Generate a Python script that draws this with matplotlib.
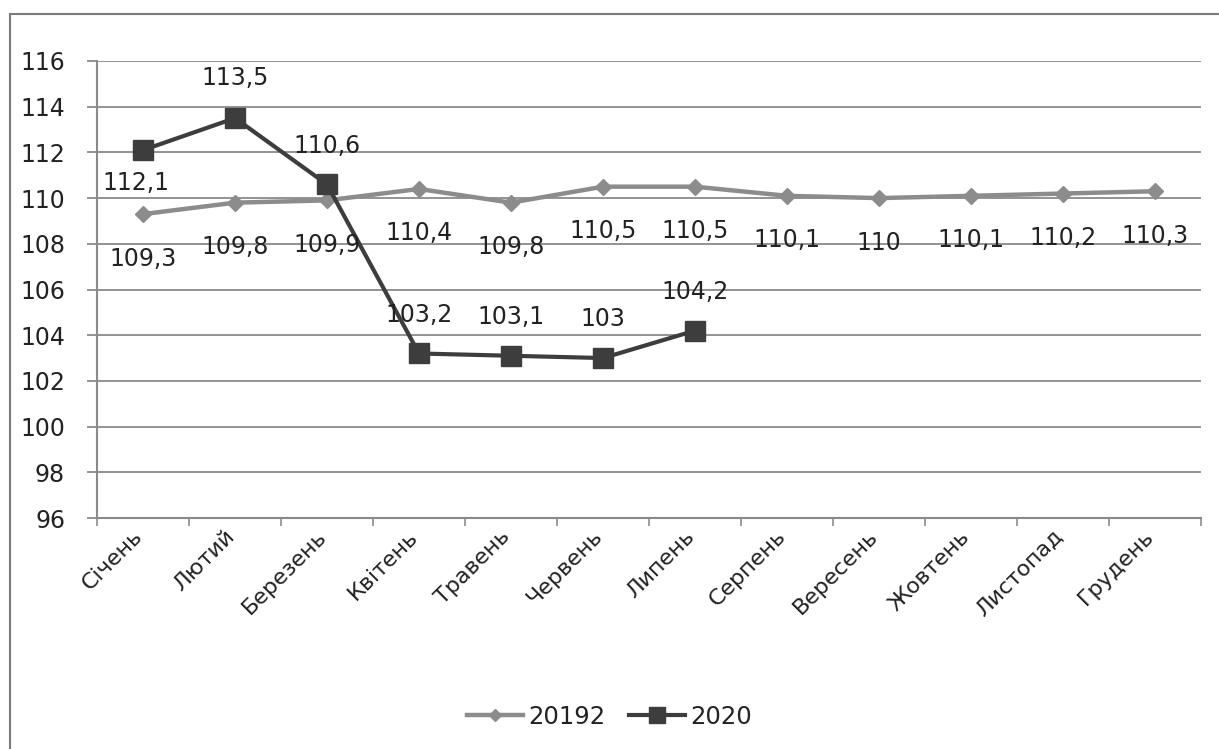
#!/usr/bin/env python3
# -*- coding: utf-8 -*-
"""Line chart: monthly index 2019 vs 2020 (Excel style)."""

import matplotlib
matplotlib.use('Agg')

import matplotlib.pyplot as plt
from matplotlib.patches import Rectangle
from matplotlib.transforms import ScaledTranslation

# Data
months = ['Січень', 'Лютий', 'Березень', 'Квітень', 'Травень', 'Червень',
          'Липень', 'Серпень', 'Вересень', 'Жовтень', 'Листопад', 'Грудень']
values_2019 = [109.3, 109.8, 109.9, 110.4, 109.8, 110.5,
               110.5, 110.1, 110.0, 110.1, 110.2, 110.3]
values_2020 = [112.1, 113.5, 110.6, 103.2, 103.1, 103.0, 104.2]
labels_2019 = ['109,3', '109,8', '109,9', '110,4', '109,8', '110,5',
               '110,5', '110,1', '110', '110,1', '110,2', '110,3']
labels_2020 = ['112,1', '113,5', '110,6', '103,2', '103,1', '103', '104,2']
series_names = ['20192', '2020']
y_ticks = list(range(96, 117, 2))

COLORS = {
    'light': '#8c8c8c',
    'dark': '#3d3d3d',
    'grid': '#8a8a8a',
    'text': '#222222',
}

plt.rcParams['font.family'] = ['DejaVu Sans']

W, H, DPI = 1219, 749, 100
fig = plt.figure(figsize=(W / DPI, H / DPI), dpi=DPI)
fig.patch.set_facecolor('white')

# Chart frame (only top and left edges are visible)
fig.patches.append(Rectangle((10 / W, -0.1), 1.2, 1.1 - 14 / H,
                             transform=fig.transFigure, fill=False,
                             edgecolor='#7a7a7a', linewidth=1.5, zorder=1))

ax = fig.add_axes([97 / W, 1 - 518 / H, (1201 - 97) / W, (518 - 61) / H])
ax.set_facecolor('none')

x19 = list(range(len(values_2019)))
x20 = list(range(len(values_2020)))

ax.plot(x19, values_2019, color=COLORS['light'], linewidth=3.2,
        marker='D', markersize=8, zorder=4, label=series_names[0])
ax.plot(x20, values_2020, color=COLORS['dark'], linewidth=3.0,
        marker='s', markersize=14, zorder=5, label=series_names[1])

# Data labels
for x, v, t in zip(x19, values_2019, labels_2019):
    ax.annotate(t, (x, v), xytext=(0, -32), textcoords='offset points',
                ha='center', va='center', fontsize=17, color=COLORS['text'],
                zorder=6)
offsets_2020 = [-24, 29, 28, 28, 28, 28, 28]
for x, v, t, dy in zip(x20, values_2020, labels_2020, offsets_2020):
    ax.annotate(t, (x, v), xytext=(-5 if dy < 0 else 0, dy),
                textcoords='offset points', ha='center', va='center',
                fontsize=17, color=COLORS['text'], zorder=6)

# Axes styling
ax.set_xlim(-0.5, len(months) - 0.5)
ax.set_ylim(96, 116)
ax.set_yticks(y_ticks)
ax.set_yticklabels([str(v) for v in y_ticks])
ax.yaxis.grid(True, color=COLORS['grid'], linewidth=1.3)
ax.set_axisbelow(True)

ax.set_xticks(x19)
ax.set_xticklabels(months, rotation=45, ha='right', rotation_mode='anchor')
ax.set_xticks([i - 0.5 for i in range(len(months) + 1)], minor=True)
ax.tick_params(axis='x', which='major', length=0, pad=6,
               labelsize=16, labelcolor=COLORS['text'])
ax.tick_params(axis='x', which='minor', length=6, width=1.2,
               color=COLORS['grid'], direction='out')
ax.tick_params(axis='y', length=7, width=1.3, color=COLORS['grid'],
               labelsize=17, labelcolor=COLORS['text'], pad=16)
shift = ScaledTranslation(-8 / 72, 0, fig.dpi_scale_trans)
for lbl in ax.get_xticklabels():
    lbl.set_transform(lbl.get_transform() + shift)

for side in ['top', 'right']:
    ax.spines[side].set_visible(False)
for side in ['left', 'bottom']:
    ax.spines[side].set_color(COLORS['grid'])
    ax.spines[side].set_linewidth(1.5)

leg = fig.legend(loc='center', bbox_to_anchor=(0.5, 1 - 717 / H),
                 ncol=2, frameon=False, fontsize=17.5, handlelength=2.3,
                 columnspacing=1.0, handletextpad=0.2, markerscale=0.8)
for t in leg.get_texts():
    t.set_color(COLORS['text'])

fig.savefig('out.png', dpi=DPI, facecolor='white')
plt.close(fig)
